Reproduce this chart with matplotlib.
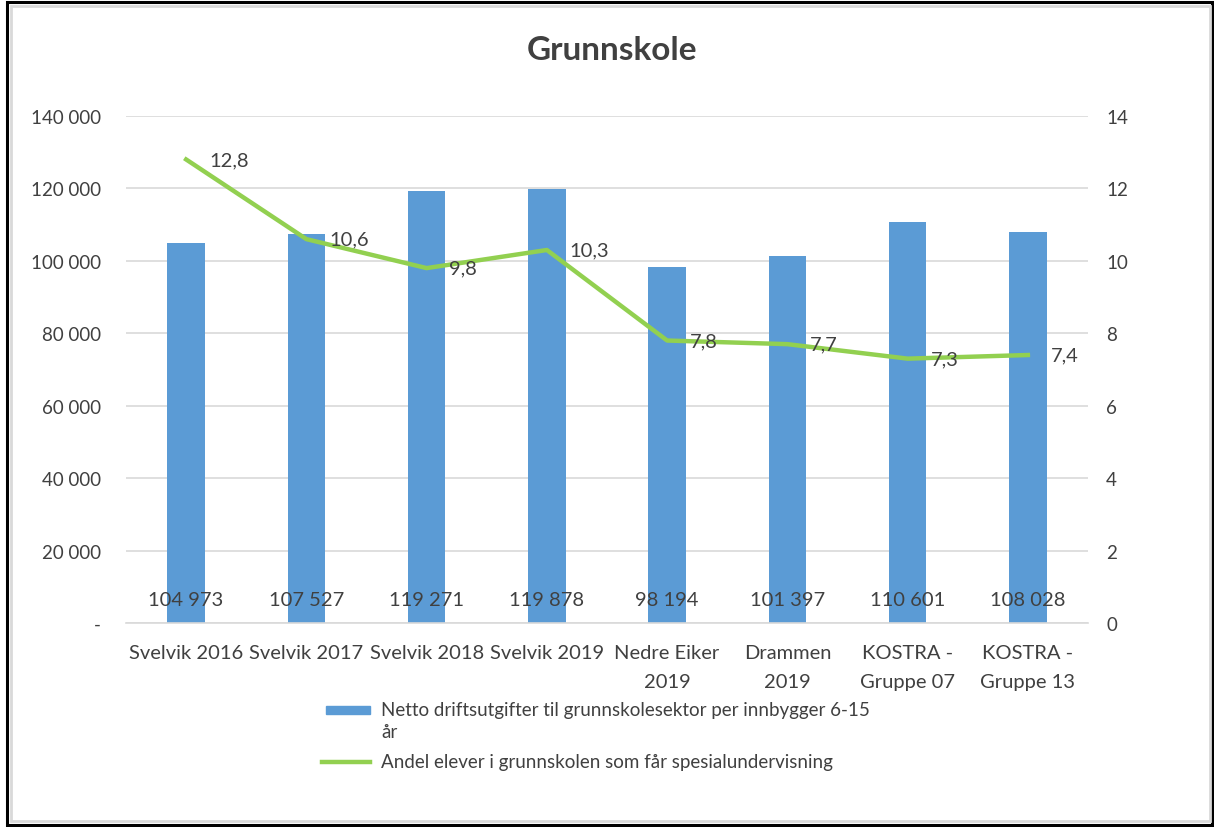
import matplotlib.pyplot as plt
from matplotlib.patches import Rectangle
from matplotlib.lines import Line2D
from matplotlib.ticker import FuncFormatter

plt.rcParams["font.family"] = ["Lato", "DejaVu Sans"]

categories = ["Svelvik 2016", "Svelvik 2017", "Svelvik 2018", "Svelvik 2019",
              "Nedre Eiker\n2019", "Drammen\n2019", "KOSTRA -\nGruppe 07", "KOSTRA -\nGruppe 13"]
netto = [104973, 107527, 119271, 119878, 98194, 101397, 110601, 108028]
andel = [12.8, 10.6, 9.8, 10.3, 7.8, 7.7, 7.3, 7.4]

bar_label = ["Netto driftsutgifter til grunnskolesektor per innbygger 6-15", "år"]
line_label = "Andel elever i grunnskolen som får spesialundervisning"

W, H = 1214, 828
fig = plt.figure(figsize=(W / 100, H / 100), dpi=100)


def fx(px):
    return px / W


def fy(py):
    return 1 - py / H


# frame around the chart
fig.patches.append(Rectangle((7 / W, 2 / H), 1205 / W, 823 / H, transform=fig.transFigure,
                             fill=False, edgecolor="black", linewidth=2.2))
fig.patches.append(Rectangle((11 / W, 6 / H), 1199 / W, 815 / H, transform=fig.transFigure,
                             fill=False, edgecolor="#d9d9d9", linewidth=2))

ax = fig.add_axes([fx(126), fy(624), (1088 - 126) / W, (624 - 117) / H])
x = range(len(categories))
ax.bar(x, netto, width=0.31, color="#5b9bd5", zorder=2)
ax.set_ylim(0, 140000)
ax.set_xlim(-0.5, len(categories) - 0.5)
ax.set_yticks(range(0, 140001, 20000))
ax.yaxis.set_major_formatter(FuncFormatter(
    lambda v, p: "-" if v == 0 else f"{int(v):,}".replace(",", " ")))
ax.grid(axis="y", color="#d9d9d9", linewidth=1.2, zorder=0)
for s in ["top", "right", "left"]:
    ax.spines[s].set_visible(False)
ax.spines["bottom"].set_color("#d9d9d9")
ax.spines["bottom"].set_linewidth(1.2)
ax.tick_params(length=0, labelsize=13.5, labelcolor="#404040")
ax.tick_params(axis="y", pad=18)
ax.set_xticks(list(x))
ax.set_xticklabels(categories, fontsize=14.5, color="#404040", linespacing=1.85)
ax.tick_params(axis="x", pad=15)
for i, v in enumerate(netto):
    ax.text(i, 6500, f"{v:,}".replace(",", " "), ha="center", va="center",
            fontsize=14.5, color="#404040", zorder=4)

ax2 = ax.twinx()
ax2.plot(list(x), andel, color="#92d050", linewidth=3.2, zorder=3)
ax2.set_ylim(0, 14)
ax2.set_yticks(range(0, 15, 2))
for s in ["top", "right", "left", "bottom"]:
    ax2.spines[s].set_visible(False)
ax2.tick_params(length=0, labelsize=13.5, labelcolor="#404040", pad=13)
for i, v in enumerate(andel):
    ax2.text(i + 0.19, v, f"{v}".replace(".", ","), ha="left", va="center",
             fontsize=14.5, color="#404040", zorder=4)

fig.text(fx(612), fy(50), "Grunnskole", ha="center", va="center",
         fontsize=24, fontweight="bold", color="#404040")

# legend, laid out like the Excel one (handle aligned with first text line)
fig.patches.append(Rectangle((fx(326), fy(715)), 44 / W, 8 / H, transform=fig.transFigure,
                             color="#5b9bd5"))
fig.lines.append(Line2D([fx(322), fx(370)], [fy(763), fy(763)], transform=fig.transFigure,
                        color="#92d050", linewidth=3.2))
fig.text(fx(381), fy(711), bar_label[0], ha="left", va="center", fontsize=13.5, color="#404040")
fig.text(fx(381), fy(733), bar_label[1], ha="left", va="center", fontsize=13.5, color="#404040")
fig.text(fx(381), fy(763), line_label, ha="left", va="center", fontsize=13.5, color="#404040")

fig.savefig("out.png", dpi=100)
